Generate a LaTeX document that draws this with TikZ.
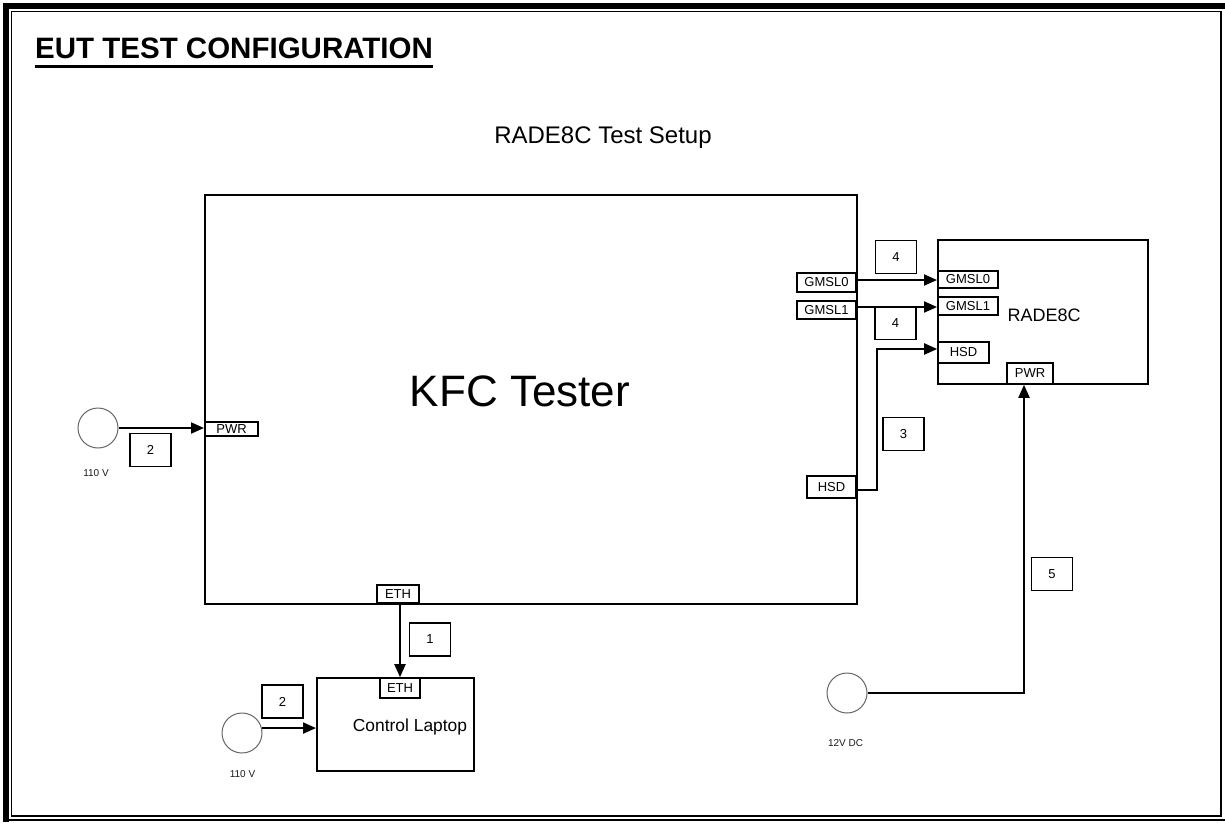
\documentclass[tikz,border=0pt]{standalone}
\usepackage{fontspec}
\setmainfont{Liberation Sans}
\usetikzlibrary{arrows.meta}
\newcommand{\myfs}[1]{\fontsize{#1}{#1}\selectfont}
\begin{document}
\begin{tikzpicture}[x=1pt,y=-1pt,
  frame/.style={draw=black, line width=2pt, fill=white, inner sep=0pt},
  port/.style={draw=black, line width=1.6pt, fill=white, inner sep=0pt, font=\myfs{13}},
  tag/.style={draw=black, line width=1.8pt, minimum width=41pt, minimum height=33pt, inner sep=0pt, font=\myfs{13}},
  src/.style={circle, draw=black!60, line width=1pt, minimum size=40pt, inner sep=0pt},
  wire/.style={line width=2pt},
  arr/.style={wire, -{Triangle[length=13pt,width=11pt]}},
  small/.style={font=\myfs{10}, text=black!90, inner sep=0pt}
]
\useasboundingbox (0,0) rectangle (1225,822);
\fill[white] (0,0) rectangle (1225,822);
% page frame
\draw[line width=6pt] (3,6) -- (1225,6);
\draw[line width=6pt] (6,3) -- (6,822);
\draw[line width=1.5pt] (11.5,11.5) rectangle (1221,816);
\draw[line width=2pt] (3,820) -- (1225,820);
% title
\node[anchor=base west, inner sep=0pt, font=\myfs{29.5}\bfseries] (title) at (35,58) {EUT TEST CONFIGURATION};
\draw[line width=3pt] ([yshift=-8pt]title.base west) -- ([yshift=-8pt]title.base east);
\node[anchor=base, inner sep=0pt, font=\myfs{24}] (setup) at (603,143) {RADE8C Test Setup};
% main boxes
\node[frame, minimum width=652pt, minimum height=409pt] (kfc) at (531,399.5) {};
\node[anchor=base, inner sep=0pt, font=\myfs{44}] (kfct) at (520,406) {KFC Tester};
\node[frame, minimum width=210pt, minimum height=144pt] (rade) at (1043,312) {};
\node[inner sep=0pt, font=\myfs{18}] (radet) at (1044,315) {RADE8C};
\node[frame, minimum width=157pt, minimum height=93pt] (lap) at (395.5,724.5) {};
\node[inner sep=0pt, font=\myfs{17.4}] (lapt) at (410,727) {Control Laptop};
% ports
\node[port, minimum width=53pt, minimum height=14pt] (pwrK) at (231.5,429) {PWR};
\node[port, minimum width=59pt, minimum height=19pt] (gK0) at (826.5,282.5) {GMSL0};
\node[port, minimum width=59pt, minimum height=18pt] (gK1) at (826.5,310) {GMSL1};
\node[port, minimum width=49pt, minimum height=22pt] (hsdK) at (831.5,487) {HSD};
\node[port, minimum width=42pt, minimum height=18pt] (ethK) at (398,594) {ETH};
\node[port, minimum width=60pt, minimum height=17pt] (gR0) at (968,279.5) {GMSL0};
\node[port, minimum width=60pt, minimum height=18pt] (gR1) at (968,306) {GMSL1};
\node[port, minimum width=51pt, minimum height=21pt] (hsdR) at (963.5,352.5) {HSD};
\node[port, minimum width=46pt, minimum height=21pt] (pwrR) at (1030,373.5) {PWR};
\node[port, minimum width=40pt, minimum height=20pt] (ethL) at (400,688) {ETH};
% sources
\node[src] (acA) at (98,428) {};
\node[src] (acB) at (242,733) {};
\node[src] (dc) at (847,693) {};
\node[small] (acAl) at (96,473) {110 V};
\node[small] (acBl) at (242.5,774) {110 V};
\node[small] (dcl) at (845.5,743) {12V DC};
% tags
\node[tag] (t4a) at (896,257) {4};
\node[tag] (t4b) at (895.5,323) {4};
\node[tag] (t3) at (903.5,434) {3};
\node[tag] (t5) at (1052,574) {5};
\node[tag] (t2a) at (150.5,450) {2};
\node[tag] (t1) at (430,639.5) {1};
\node[tag] (t2b) at (282.5,701.5) {2};
% wires
\draw[arr] (acA.east) -- (acA.east -| kfc.west);
\draw[arr] (ethK.south -| ethL.north) -- (ethL.north);
\draw[arr] (acB.14) -- (acB.14 -| lap.west);
\draw[arr] ([yshift=2.5pt]gK0.east) -- ([yshift=2.5pt]gK0.east -| rade.west);
\draw[arr] ([yshift=3pt]gK1.east) -- ([yshift=3pt]gK1.east -| rade.west);
\draw[arr] ([yshift=-3pt]hsdK.east) -- ++(20,0) |- ([yshift=3.5pt]hsdR.west);
\draw[arr] (dc.east) -| ([xshift=-6pt]pwrR.south);
\end{tikzpicture}
\end{document}
